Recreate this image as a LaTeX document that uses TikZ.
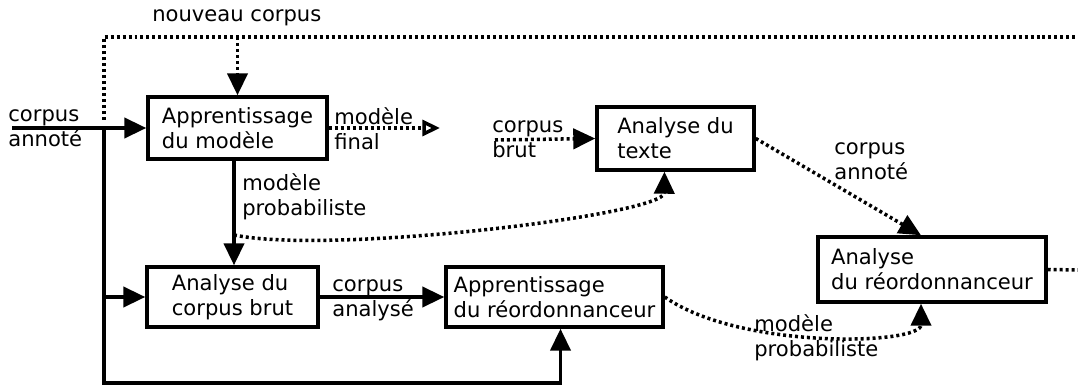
\documentclass[tikz,border=0pt]{standalone}
\usepackage{fontspec}
\setmainfont{DejaVu Sans}
\usetikzlibrary{positioning,arrows.meta,calc}

\begin{document}
\begin{tikzpicture}[
  x=0.02cm, y=-0.02cm,
  >={Triangle[length=12.5pt,width=11.5pt]},
  every node/.style={font=\fontsize{12}{14.2}\selectfont},
  box/.style={draw, line width=2pt, align=left, inner sep=4pt},
  lbl/.style={align=left, inner sep=0pt, anchor=west},
  flow/.style={line width=2pt},
  dots/.style={line width=2pt, dash pattern=on 1.7pt off 1.7pt}
]
\useasboundingbox (0,0) rectangle (1078,388);
\node[box, minimum width=3.58cm, minimum height=1.24cm] (appmod) at (237.5,128) {Apprentissage\\du modèle};
\node[box, minimum width=3.14cm, minimum height=1.26cm] (antexte) at (675.5,138.5) {Analyse du\\texte};
\node[box, minimum width=3.42cm, minimum height=1.2cm] (anbrut) at (232.5,297) {Analyse du\\corpus brut};
\node[box, minimum width=4.34cm, minimum height=1.2cm] (appreo) at (554.5,297) {Apprentissage\\du réordonnanceur};
\node[box, minimum width=4.56cm, minimum height=1.3cm] (anreo) at (932,269.5) {Analyse\\du réordonnanceur};

\node[lbl] (lnouv) at (152,18) {nouveau corpus};
\node[lbl] (lannot) at (8,128) {corpus\\annoté};
\node[lbl] (lfinal) at (334,129) {modèle\\final};
\node[lbl] (lproba) at (242,197) {modèle\\probabiliste};
\node[lbl] (lbrut) at (492,139) {corpus\\brut};
\node[lbl] (lannot2) at (834,161) {corpus\\annoté};
\node[lbl] (lanal) at (332,300) {corpus\\analysé};
\node[lbl] (lproba2) at (754,338) {modèle\\probabiliste};

\coordinate (in) at (12,128);
\coordinate (split) at (104,128);
\coordinate (bot) at (104,383);
\coordinate (top) at (104,37);
\coordinate (topR) at (1078,37);
\coordinate (outR) at (1078,270);
\coordinate (fin) at (440,128);
\coordinate (brut) at (495,140);
\coordinate (mp) at (234,235);
\coordinate (din) at ($(appreo.south)+(6,0)$);

\draw[flow,->] (in) -- (appmod.west);
\draw[flow,->] (split) -- (bot) -| (din);
\draw[flow,->] (split |- anbrut.west) -- (anbrut.west);
\draw[flow,->] (appmod.south -| mp) -- (mp |- anbrut.north);
\draw[flow,->] (anbrut.east) -- (appreo.west);

\draw[dots] ($(split)+(0,-8)$) -- (top) -- (topR);
\draw[dots,->] (appmod.north |- top) -- (appmod.north);
\draw[dots,-{Triangle[open,length=10pt,width=9pt]}] (appmod.east) -- (fin);
\draw[dots,->] (brut) -- (antexte.west);
\draw[dots,->] (mp) .. controls (330,255) and (664,215) .. ($(antexte.south)+(-11,0)$);
\draw[dots,->] (antexte.east) -- ($(anreo.north)+(-11,0)$);
\draw[dots,->] (appreo.east) .. controls (740,350) and (921,345) .. ($(anreo.south)+(-11,0)$);
\draw[dots] (anreo.east) -- (outR);
\end{tikzpicture}
\end{document}
